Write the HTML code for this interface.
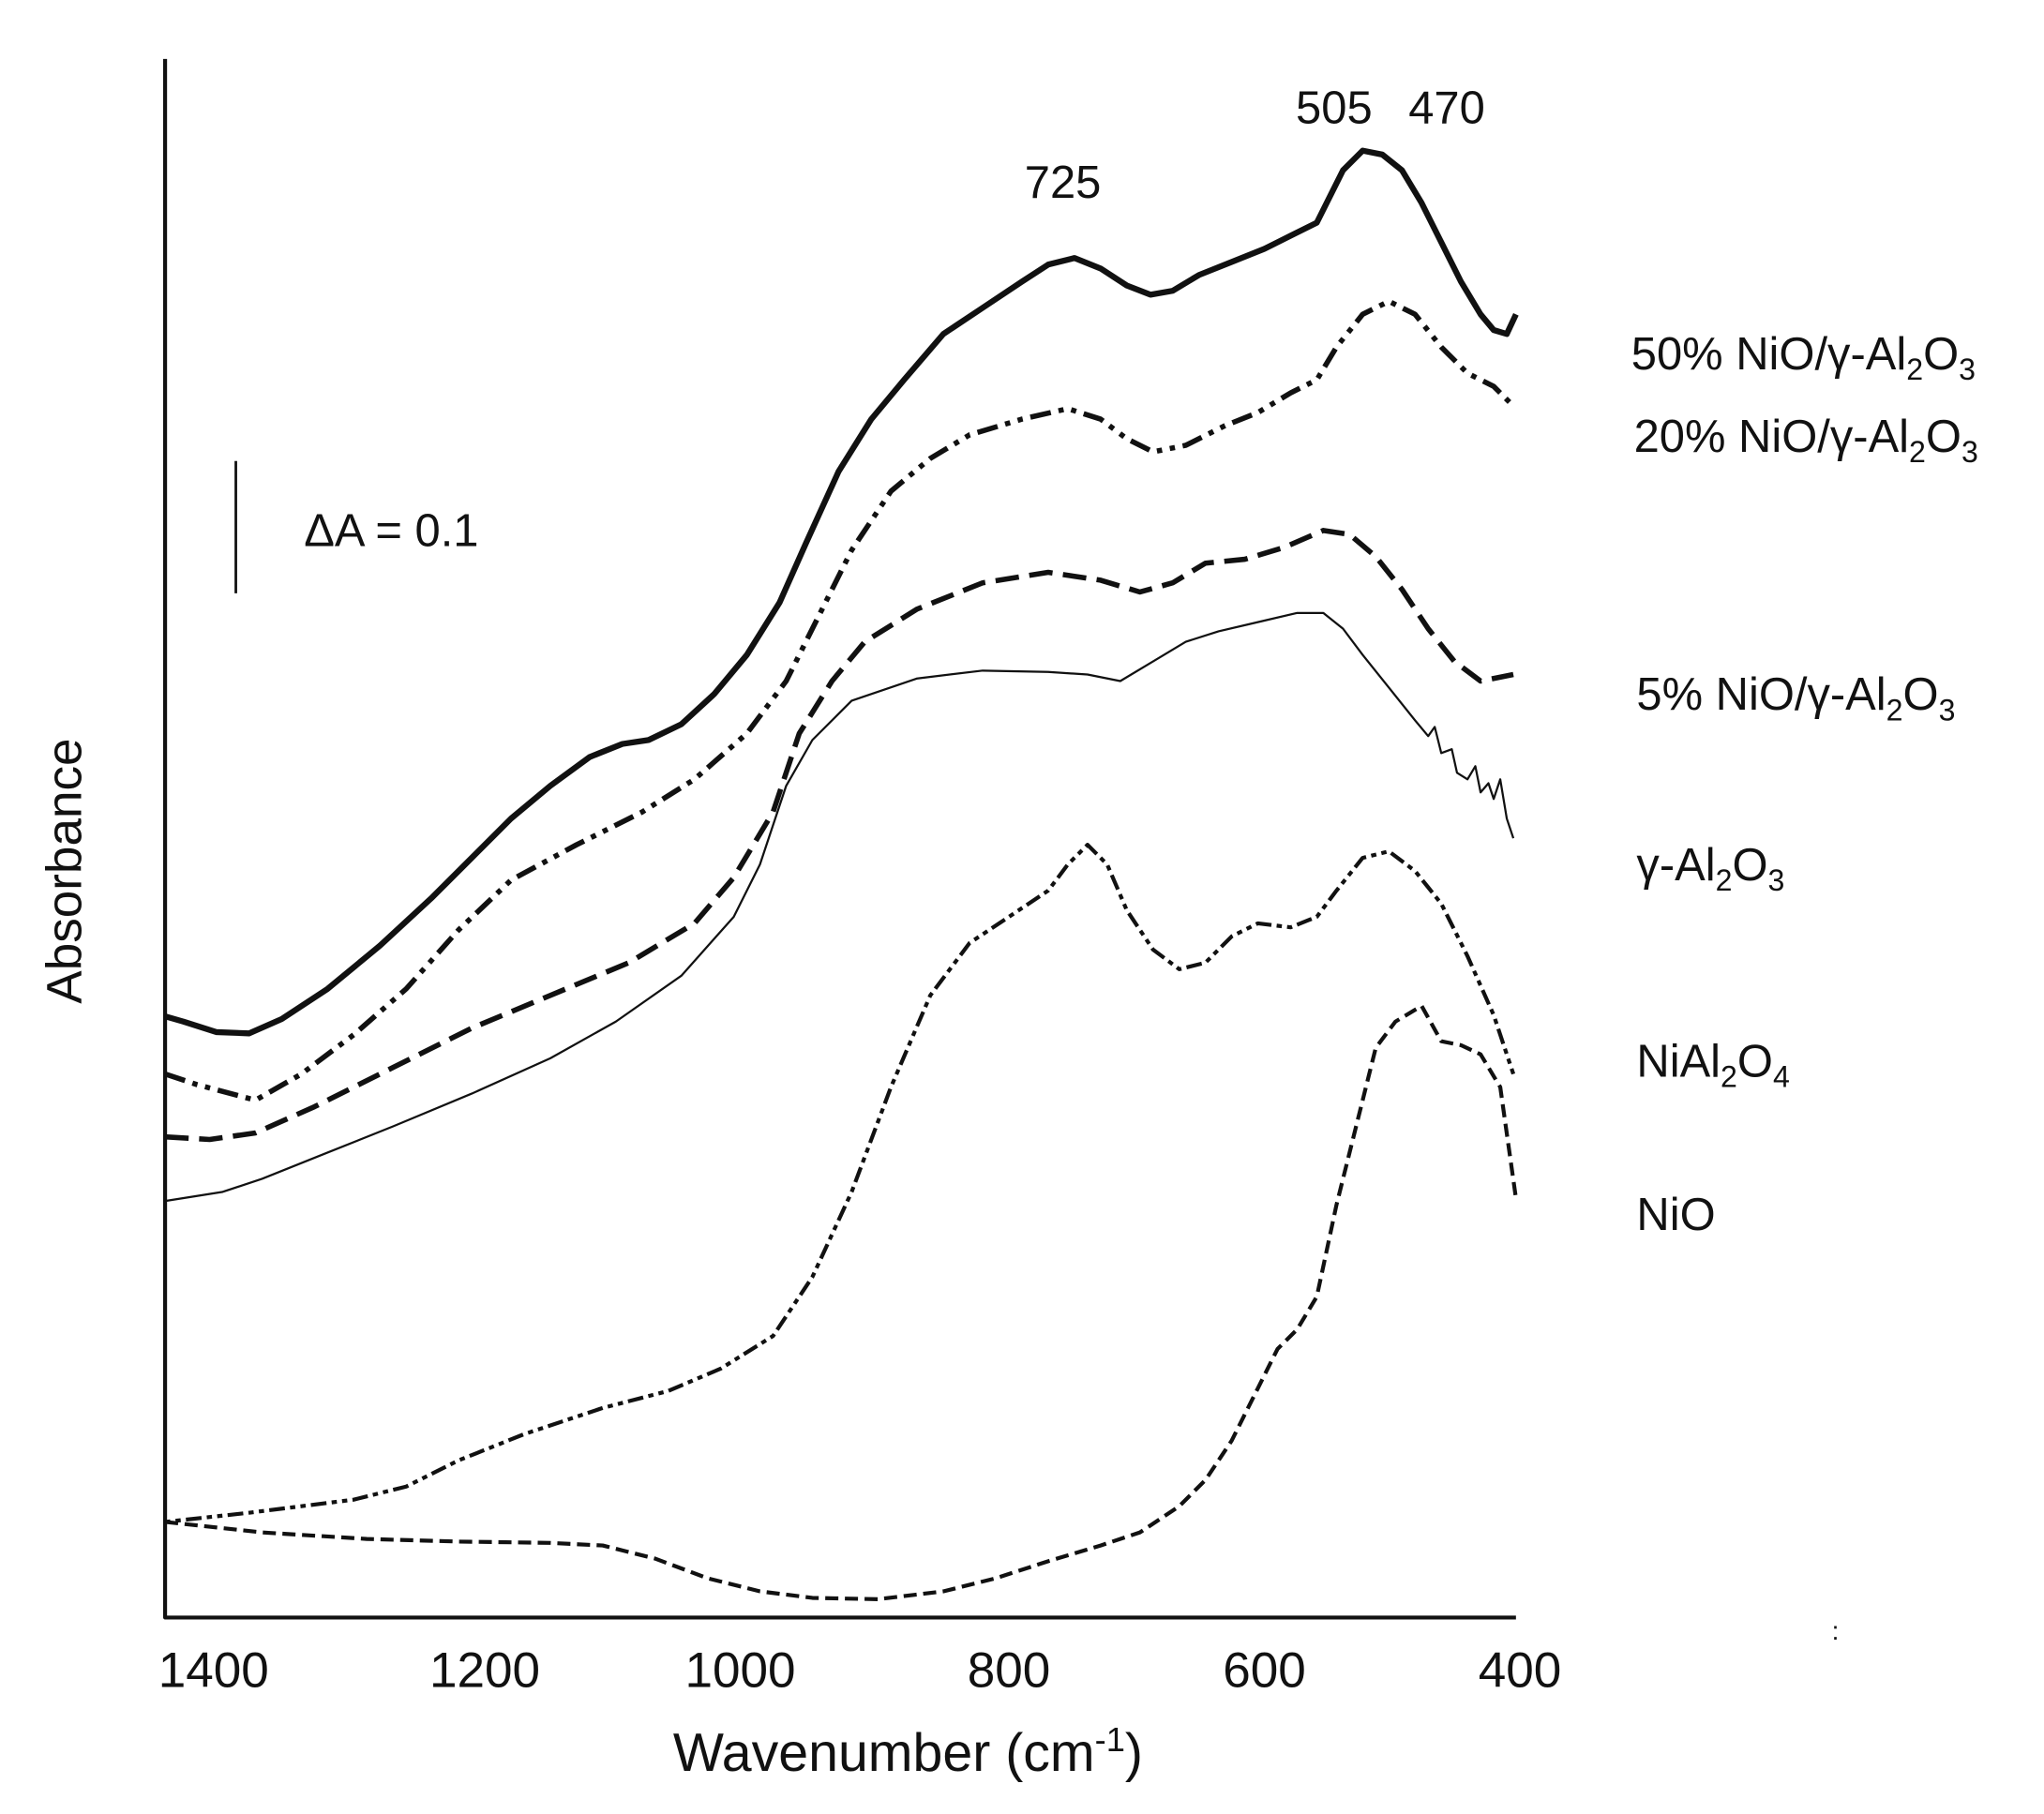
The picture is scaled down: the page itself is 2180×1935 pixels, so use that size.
<!DOCTYPE html>
<html><head><meta charset="utf-8"><style>
html,body{margin:0;padding:0;background:#fff;}
svg{display:block;}
text{font-family:"Liberation Sans",sans-serif;fill:#111;}
.c{font-family:"Liberation Sans","DejaVu Sans",sans-serif;}
</style></head><body>
<svg width="2180" height="1935" viewBox="0 0 1560 1385" preserveAspectRatio="none" xmlns="http://www.w3.org/2000/svg">
<rect width="1560" height="1385" fill="#fff"/>
<g fill="none" stroke="#111" stroke-linejoin="round" stroke-linecap="butt">
<path d="M126,45 L126,1235 L1157,1235" stroke-width="3"/>
<line x1="180" y1="352" x2="180" y2="453" stroke-width="2"/>
<polyline stroke-width="4.5" points="126,776 140,780 165,788 190,789 215,778 250,755 290,722 330,685 360,655 390,625 420,600 450,578 475,568 495,565 520,553 545,530 570,500 595,460 615,415 640,360 665,320 690,290 720,255 750,235 780,215 800,202 820,197 840,205 860,218 878,225 895,222 915,210 940,200 965,190 985,180 1005,170 1015,150 1025,130 1040,115 1055,118 1070,130 1085,155 1100,185 1115,215 1130,240 1140,252 1150,255 1157,240"/>
<polyline stroke-width="4" stroke-dasharray="16,6,4,6,4,6" points="126,820 150,828 195,840 230,820 270,790 310,755 350,710 390,672 440,645 490,620 530,595 570,560 600,520 625,470 650,420 680,375 710,350 740,332 780,320 815,312 840,320 860,335 880,345 905,340 935,325 960,315 985,300 1005,290 1020,265 1040,240 1060,230 1080,240 1100,265 1120,285 1140,295 1155,310"/>
<polyline stroke-width="4" stroke-dasharray="18,8" points="126,868 160,870 195,865 240,845 300,815 360,785 420,760 480,735 530,705 560,670 590,620 610,560 635,520 660,490 700,465 750,445 800,437 840,443 870,452 895,445 920,430 950,427 980,418 1010,405 1030,408 1050,425 1070,450 1090,480 1110,505 1130,520 1155,515"/>
<polyline stroke-width="1.6" points="126,917 170,910 200,900 250,880 300,860 360,835 420,808 470,780 520,745 560,700 580,660 600,600 620,565 650,535 700,518 750,512 800,513 830,515 855,520 880,505 905,490 930,482 960,475 990,468 1010,468 1025,480 1040,500 1060,525 1080,550 1090,562 1095,555 1100,575 1108,572 1112,590 1120,595 1126,585 1130,605 1136,598 1140,610 1145,595 1150,625 1155,640"/>
<polyline stroke-width="3" stroke-dasharray="4,4,4,4,12,4" points="126,1162 190,1155 270,1145 310,1135 350,1115 400,1095 460,1075 510,1062 550,1045 590,1020 620,975 650,910 680,830 710,760 740,720 770,700 800,680 815,660 830,645 845,660 860,695 880,725 900,740 920,735 940,715 960,705 985,708 1005,700 1020,680 1040,655 1060,650 1080,665 1100,690 1120,730 1140,775 1155,820"/>
<polyline stroke-width="3" stroke-dasharray="10,5" points="126,1162 200,1170 280,1175 350,1177 420,1178 460,1180 500,1190 540,1205 580,1215 620,1220 670,1221 720,1215 760,1205 800,1192 840,1180 870,1170 900,1150 920,1130 940,1100 960,1060 975,1030 990,1015 1005,990 1020,920 1035,860 1050,800 1065,780 1085,768 1100,795 1115,798 1130,805 1145,830 1157,915"/>
</g>
<g font-size="35" class="c">
<text x="1245" y="282">50% NiO/γ-Al<tspan font-size="23" dy="8">2</tspan><tspan dy="-8">O</tspan><tspan font-size="23" dy="8">3</tspan></text>
<text x="1247" y="345">20% NiO/γ-Al<tspan font-size="23" dy="8">2</tspan><tspan dy="-8">O</tspan><tspan font-size="23" dy="8">3</tspan></text>
<text x="1249" y="542">5% NiO/γ-Al<tspan font-size="23" dy="8">2</tspan><tspan dy="-8">O</tspan><tspan font-size="23" dy="8">3</tspan></text>
<text x="1249" y="672">γ-Al<tspan font-size="23" dy="8">2</tspan><tspan dy="-8">O</tspan><tspan font-size="23" dy="8">3</tspan></text>
<text x="1249" y="822">NiAl<tspan font-size="23" dy="8">2</tspan><tspan dy="-8">O</tspan><tspan font-size="23" dy="8">4</tspan></text>
<text x="1249" y="939">NiO</text>
<text x="782" y="151">725</text>
<text x="989" y="94">505</text>
<text x="1075" y="94">470</text>
<text x="232" y="417">ΔA = 0.1</text>
</g>
<g font-size="38" text-anchor="middle">
<text x="163" y="1288">1400</text>
<text x="370" y="1288">1200</text>
<text x="565" y="1288">1000</text>
<text x="770" y="1288">800</text>
<text x="965" y="1288">600</text>
<text x="1160" y="1288">400</text>
<text x="693" y="1352" font-size="41">Wavenumber (cm<tspan font-size="26" dy="-15">-1</tspan><tspan dy="15">)</tspan></text>
<text x="0" y="0" transform="translate(62,665) rotate(-90)">Absorbance</text>
</g>
<text x="1398" y="1252" font-size="20">:</text>
</svg>
</body></html>
